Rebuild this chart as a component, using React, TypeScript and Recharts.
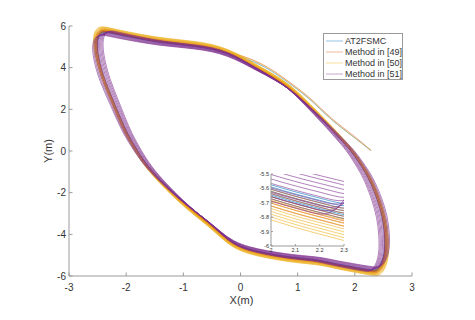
import React from 'react'
import { LineChart, Line, XAxis, YAxis, CartesianGrid, Label } from 'recharts'

const FONT = '"Liberation Sans", Arial, Helvetica, sans-serif'
const AXIS_COLOR = '#9a9a9a'
const TEXT_COLOR = '#333333'

// reference loop, counter-clockwise, starting on the top edge (closed: last joins first)
const BASE_X = [
  -0.5, -0.8, -1.06, -1.4, -1.7, -2.0, -2.22, -2.38, -2.47, -2.52, -2.52, -2.48, -2.4, -2.24,
  -2.12, -1.99, -1.82, -1.63, -1.35, -1.06, -0.8, -0.55, -0.33, -0.13, 0.15, 0.46, 0.75, 1.04,
  1.3, 1.5, 1.68, 1.85, 2.0, 2.12, 2.24, 2.34, 2.42, 2.49, 2.54, 2.54, 2.5, 2.41, 2.3, 2.2,
  2.07, 1.94, 1.75, 1.51, 1.19, 0.92, 0.7, 0.43, 0.22, 0.02, -0.22,
]
const BASE_Y = [
  4.98, 5.1, 5.18, 5.28, 5.42, 5.58, 5.71, 5.81, 5.7, 5.4, 4.9, 4.3, 3.5, 2.45,
  1.65, 0.83, 0.03, -0.77, -1.6, -2.37, -2.97, -3.5, -4.05, -4.5, -4.8, -4.98, -5.12, -5.22,
  -5.28, -5.38, -5.5, -5.58, -5.66, -5.72, -5.77, -5.82, -5.7, -5.4, -4.9, -4.1, -3.2, -2.37, -1.6, -1.05,
  -0.5, 0.03, 0.6, 1.31, 2.19, 2.91, 3.35, 3.79, 4.1, 4.42, 4.74,
]

// start-up approach from (2.3, 0) until it merges with the loop
const TAIL_X = [2.29, 2.1, 1.92, 1.62, 1.4, 1.2, 0.98, 0.72, 0.43, 0.05, -0.5, -0.8, -1.06]
const TAIL_Y = [0.03, 0.45, 0.83, 1.47, 2.05, 2.58, 3.05, 3.58, 4.12, 4.58, 4.98, 5.1, 5.18]

const METHODS = ['AT2FSMC', 'Method in [49]', 'Method in [50]', 'Method in [51]']
const COLORS = ['#0072BD', '#D95319', '#EDB120', '#7E2F8E']
const HAS_TAIL = [true, true, true, false]
const TAIL_DY = [0, 0.05, -0.04, 0]

// per-lap stretch of each method's loop
const AT2FSMC_SX = [0.994, 0.996, 0.998, 1.0, 1.001, 1.002, 1.003, 1.004]
const AT2FSMC_SY = [0.984, 0.987, 0.99, 0.993, 0.996, 0.998, 1.0, 1.003]
const M49_SX = [0.996, 0.998, 1.0, 1.002, 1.004, 1.006, 1.008, 1.01]
const M49_SY = [0.99, 0.993, 0.996, 1.0, 1.003, 1.006, 1.009, 1.013]
const M50_SX = [1.0, 1.003, 1.006, 1.009, 1.012, 1.015, 1.018, 1.021]
const M50_SY = [1.004, 1.008, 1.012, 1.016, 1.02, 1.024, 1.028, 1.032]
const M51_SX = [0.955, 0.963, 0.971, 0.979, 0.987, 0.995, 1.003, 1.011, 1.019, 1.027]
const M51_SY = [0.997, 0.993, 0.989, 0.985, 0.981, 0.977, 0.973, 0.969, 0.965, 0.962]

const LAP_SX = [AT2FSMC_SX, M49_SX, M50_SX, M51_SX]
const LAP_SY = [AT2FSMC_SY, M49_SY, M50_SY, M51_SY]

const X_TICKS = [-3, -2, -1, 0, 1, 2, 3]
const Y_TICKS = [-6, -4, -2, 0, 2, 4, 6]
const INSET_X_TICKS = [2, 2.1, 2.2, 2.3]
const INSET_Y_TICKS = [-6, -5.9, -5.8, -5.7, -5.6, -5.5]

type Pt = { x: number; y: number }
type Trace = { key: string; color: string; closed: boolean; data: Pt[] }

const traces: Trace[] = []
METHODS.forEach((_name, m) => {
  if (HAS_TAIL[m]) {
    const sx = LAP_SX[m][0]
    const sy = LAP_SY[m][0]
    traces.push({
      key: `tail-${m}`,
      color: COLORS[m],
      closed: false,
      data: TAIL_X.map((x, i) => ({ x: x * sx, y: TAIL_Y[i] * sy + (i > 0 && i < 10 ? TAIL_DY[m] : 0) })),
    })
  }
  LAP_SX[m].forEach((sx, k) => {
    const sy = LAP_SY[m][k]
    traces.push({
      key: `lap-${m}-${k}`,
      color: COLORS[m],
      closed: true,
      data: BASE_X.map((x, i) => ({ x: x * sx, y: BASE_Y[i] * sy })),
    })
  })
})

// inward MATLAB-style ticks
function tickRenderer(side: string, len: number, fontSize: number, gap: number) {
  return (props: any) => {
    const { x, y, payload } = props
    const txt = { fontSize, fill: TEXT_COLOR, fontFamily: FONT }
    if (side === 'bottom') {
      return (
        <g>
          <line x1={x} y1={y} x2={x} y2={y - len} stroke={AXIS_COLOR} />
          <text x={x} y={y + gap} textAnchor="middle" dominantBaseline="central" {...txt}>
            {String(payload.value)}
          </text>
        </g>
      )
    }
    if (side === 'left') {
      return (
        <g>
          <line x1={x} y1={y} x2={x + len} y2={y} stroke={AXIS_COLOR} />
          <text x={x - gap} y={y} textAnchor="end" dominantBaseline="central" {...txt}>
            {String(payload.value)}
          </text>
        </g>
      )
    }
    if (side === 'top') return <line x1={x} y1={y} x2={x} y2={y + len} stroke={AXIS_COLOR} />
    return <line x1={x} y1={y} x2={x - len} y2={y} stroke={AXIS_COLOR} />
  }
}

const renderXLabel = (props: any) => {
  const vb = props.viewBox
  return (
    <text x={vb.x + vb.width / 2 + 1} y={vb.y + 24} textAnchor="middle" dominantBaseline="central"
      fontSize={11} fill={TEXT_COLOR} fontFamily={FONT}>X(m)</text>
  )
}

const renderYLabel = (props: any) => {
  const vb = props.viewBox
  const cx = 48
  const cy = vb.y + vb.height / 2
  return (
    <text x={cx} y={cy} transform={`rotate(-90 ${cx} ${cy})`} textAnchor="middle" dominantBaseline="central"
      fontSize={11} fill={TEXT_COLOR} fontFamily={FONT}>Y(m)</text>
  )
}

function TrajectoryLines() {
  return traces.map((t) => (
    <Line
      key={t.key}
      data={t.data}
      dataKey="y"
      type={t.closed ? 'basisClosed' : 'basis'}
      stroke={t.color}
      strokeOpacity={t.closed ? 0.6 : 0.5}
      strokeWidth={1}
      dot={false}
      activeDot={false}
      legendType="none"
      isAnimationActive={false}
    />
  ))
}

function LegendBox() {
  return (
    <div
      style={{
        position: 'absolute', left: 323, top: 33, width: 80, height: 47, boxSizing: 'border-box',
        border: `1px solid ${AXIS_COLOR}`, background: '#fff', paddingTop: 2, fontFamily: FONT,
      }}
    >
      {METHODS.map((name, i) => (
        <div key={name} style={{ display: 'flex', alignItems: 'center', height: 10.8 }}>
          <svg width={17} height={4} style={{ marginLeft: 2, marginRight: 2 }}>
            <line x1={0} y1={2} x2={17} y2={2} stroke={COLORS[i]} strokeOpacity={0.35} strokeWidth={1.2} />
          </svg>
          <span style={{ fontSize: 9, color: TEXT_COLOR, whiteSpace: 'nowrap', lineHeight: '10px' }}>{name}</span>
        </div>
      ))}
    </div>
  )
}

export default function App() {
  return (
    <div style={{ position: 'absolute', left: 0, top: 0, width: 475, height: 320, background: '#fff' }}>
      <LineChart width={475} height={320} margin={{ top: 26, right: 63, bottom: 0, left: 0 }}>
        <XAxis dataKey="x" type="number" domain={[-3, 3]} ticks={X_TICKS} interval={0} allowDataOverflow
          height={44} tickSize={0} tickMargin={0} tickLine={false} axisLine={{ stroke: AXIS_COLOR }}
          tick={tickRenderer('bottom', 3.5, 10, 11)}>
          <Label content={renderXLabel} />
        </XAxis>
        <XAxis xAxisId="top" orientation="top" dataKey="x" type="number" domain={[-3, 3]} ticks={X_TICKS}
          interval={0} allowDataOverflow height={0} tickSize={0} tickMargin={0} tickLine={false}
          axisLine={{ stroke: AXIS_COLOR }} tick={tickRenderer('top', 3.5, 10, 0)} />
        <YAxis type="number" domain={[-6, 6]} ticks={Y_TICKS} interval={0} allowDataOverflow width={69}
          tickSize={0} tickMargin={0} tickLine={false} axisLine={{ stroke: AXIS_COLOR }}
          tick={tickRenderer('left', 3.5, 10, 3)}>
          <Label content={renderYLabel} />
        </YAxis>
        <YAxis yAxisId="right" orientation="right" type="number" domain={[-6, 6]} ticks={Y_TICKS} interval={0}
          allowDataOverflow width={0} tickSize={0} tickMargin={0} tickLine={false}
          axisLine={{ stroke: AXIS_COLOR }} tick={tickRenderer('right', 3.5, 10, 0)} />
        {TrajectoryLines()}
      </LineChart>

      <LegendBox />

      <div style={{ position: 'absolute', left: 250, top: 168 }}>
        <LineChart width={100} height={90} margin={{ top: 6, right: 6, bottom: 0, left: 0 }}>
          <CartesianGrid horizontal={false} vertical={false} fill="#fff" />
          <XAxis dataKey="x" type="number" domain={[2, 2.3]} ticks={INSET_X_TICKS} interval={0} allowDataOverflow
            height={12} tickSize={0} tickMargin={0} tickLine={false} axisLine={{ stroke: AXIS_COLOR }}
            tick={tickRenderer('bottom', 2, 5.5, 4)} />
          <XAxis xAxisId="top" orientation="top" dataKey="x" type="number" domain={[2, 2.3]} ticks={INSET_X_TICKS}
            interval={0} allowDataOverflow height={0} tickSize={0} tickMargin={0} tickLine={false}
            axisLine={{ stroke: AXIS_COLOR }} tick={tickRenderer('top', 2, 5.5, 0)} />
          <YAxis type="number" domain={[-6, -5.5]} ticks={INSET_Y_TICKS} interval={0} allowDataOverflow width={21}
            tickSize={0} tickMargin={0} tickLine={false} axisLine={{ stroke: AXIS_COLOR }}
            tick={tickRenderer('left', 2, 5.5, 2)} />
          <YAxis yAxisId="right" orientation="right" type="number" domain={[-6, -5.5]} ticks={INSET_Y_TICKS}
            interval={0} allowDataOverflow width={0} tickSize={0} tickMargin={0} tickLine={false}
            axisLine={{ stroke: AXIS_COLOR }} tick={tickRenderer('right', 2, 5.5, 0)} />
          {TrajectoryLines()}
        </LineChart>
      </div>
    </div>
  )
}
